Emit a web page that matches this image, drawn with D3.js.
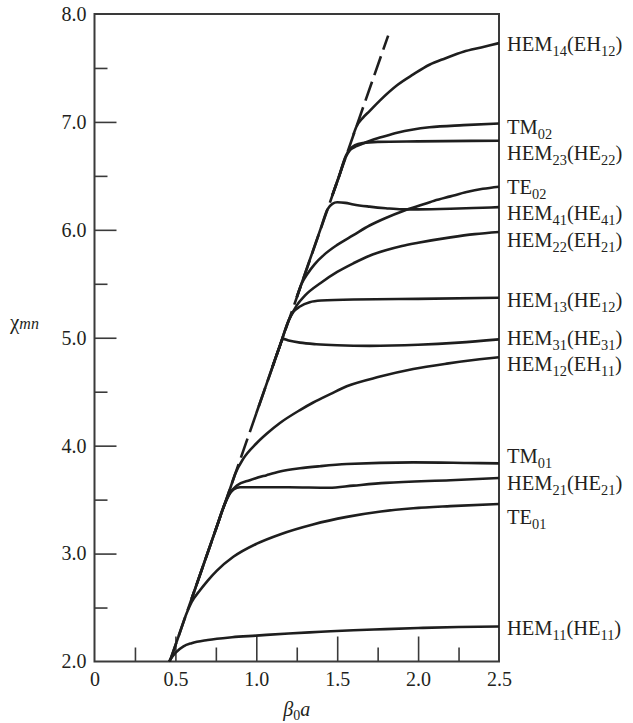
<!DOCTYPE html>
<html>
<head>
<meta charset="utf-8">
<script src="https://cdn.jsdelivr.net/npm/d3@7"></script>
<style>
  html, body { margin: 0; padding: 0; background: #fff; }
  svg text { font-family: "Liberation Serif", "Times New Roman", serif; fill: #231f20; }
</style>
</head>
<body>
<svg id="chart" width="633" height="723"></svg>
<script>
// ---------------- data ----------------
const xTicksMajor = [0, 0.5, 1.0, 1.5, 2.0, 2.5];
const xTickLabels = ["0", "0.5", "1.0", "1.5", "2.0", "2.5"];
const xTicksMinor = [0.25, 0.75, 1.25, 1.75, 2.25];
const yTicksMajor = [2, 3, 4, 5, 6, 7, 8];
const yTickLabels = ["2.0", "3.0", "4.0", "5.0", "6.0", "7.0", "8.0"];
const yTicksMinor = [2.5, 3.5, 4.5, 5.5, 6.5, 7.5];

// light line (dashed), straight
const lightLine = [[0.465, 2.0], [1.815, 7.8]];

const modeNames = [
  "HEM_14(EH_12)", "TM_02", "HEM_23(HE_22)", "TE_02", "HEM_41(HE_41)",
  "HEM_22(EH_21)", "HEM_13(HE_12)", "HEM_31(HE_31)", "HEM_12(EH_11)",
  "TM_01", "HEM_21(HE_21)", "TE_01", "HEM_11(HE_11)"
];
// label anchor values (chi units) at right edge
const labelValues = [7.72, 6.95, 6.71, 6.40, 6.16, 5.91, 5.35, 5.00, 4.76, 3.90, 3.65, 3.34, 2.31];

const hem14 = [[1.60,6.88],[1.617,6.95],[1.66,7.04],[1.70,7.10],[1.765,7.20],[1.87,7.34],[1.97,7.44],[2.07,7.53],[2.17,7.59],[2.28,7.65],[2.39,7.69],[2.5,7.73]];
const tm02 = [[1.47,6.32],[1.51,6.49],[1.55,6.665],[1.58,6.74],[1.62,6.775],[1.66,6.80],[1.72,6.835],[1.77,6.857],[1.87,6.90],[1.97,6.93],[2.07,6.95],[2.28,6.97],[2.5,6.985]];
const hem23 = [[1.47,6.32],[1.51,6.49],[1.555,6.69],[1.58,6.75],[1.61,6.785],[1.66,6.805],[1.75,6.815],[2.0,6.82],[2.5,6.826]];
const te02 = [[1.25,5.375],[1.28,5.50],[1.32,5.60],[1.36,5.68],[1.42,5.77],[1.50,5.86],[1.60,5.95],[1.70,6.04],[1.80,6.11],[1.90,6.17],[2.0,6.22],[2.10,6.27],[2.20,6.31],[2.30,6.35],[2.40,6.38],[2.5,6.40]];
const hem41 = [[1.25,5.375],[1.30,5.59],[1.35,5.805],[1.40,6.02],[1.44,6.19],[1.47,6.24],[1.50,6.255],[1.55,6.25],[1.60,6.235],[1.70,6.215],[1.80,6.20],[1.90,6.19],[2.0,6.19],[2.2,6.195],[2.4,6.205],[2.5,6.21]];
const hem22 = [[1.10,4.73],[1.15,4.945],[1.20,5.16],[1.25,5.30],[1.30,5.39],[1.40,5.51],[1.50,5.61],[1.60,5.69],[1.70,5.76],[1.80,5.81],[1.90,5.85],[2.0,5.88],[2.2,5.93],[2.35,5.96],[2.5,5.98]];
const hem13 = [[1.10,4.73],[1.15,4.945],[1.20,5.16],[1.23,5.24],[1.27,5.29],[1.33,5.33],[1.40,5.345],[1.60,5.355],[2.0,5.36],[2.5,5.37]];
const hem31 = [[1.0,4.30],[1.05,4.515],[1.10,4.73],[1.14,4.90],[1.165,4.99],[1.20,4.975],[1.27,4.955],[1.37,4.94],[1.50,4.93],[1.70,4.925],[2.0,4.935],[2.25,4.955],[2.5,4.985]];
const hem12 = [[0.75,3.225],[0.80,3.44],[0.84,3.61],[0.87,3.74],[0.92,3.88],[1.0,4.02],[1.064,4.11],[1.146,4.21],[1.27,4.33],[1.352,4.40],[1.46,4.48],[1.559,4.55],[1.765,4.64],[1.97,4.71],[2.177,4.76],[2.38,4.80],[2.5,4.82]];
const tm01 = [[0.60,2.58],[0.65,2.795],[0.70,3.01],[0.75,3.225],[0.80,3.44],[0.837,3.56],[0.88,3.63],[0.96,3.68],[1.064,3.727],[1.146,3.76],[1.27,3.79],[1.394,3.81],[1.559,3.83],[1.97,3.845],[2.3,3.84],[2.5,3.836]];
const hem21 = [[0.60,2.58],[0.65,2.795],[0.70,3.01],[0.75,3.225],[0.80,3.44],[0.83,3.54],[0.86,3.595],[0.90,3.615],[1.0,3.615],[1.2,3.615],[1.45,3.61],[1.60,3.63],[1.80,3.655],[2.2,3.68],[2.5,3.70]];
const te01 = [[0.47,2.02],[0.52,2.235],[0.57,2.45],[0.60,2.55],[0.652,2.66],[0.70,2.75],[0.755,2.84],[0.858,2.97],[1.0,3.09],[1.15,3.18],[1.35,3.27],[1.56,3.34],[1.77,3.39],[1.97,3.42],[2.2,3.44],[2.5,3.46]];
const hem11 = [[0.46,2.0],[0.50,2.08],[0.55,2.14],[0.60,2.17],[0.70,2.20],[0.85,2.225],[1.0,2.24],[1.2,2.26],[1.4,2.275],[1.6,2.29],[1.8,2.30],[2.0,2.31],[2.25,2.32],[2.5,2.325]];

const modeCurves = [hem14, tm02, hem23, te02, hem41, hem22, hem13, hem31, hem12, tm01, hem21, te01, hem11];

// ---------------- drawing ----------------
const svg = d3.select("#chart");
const L = 94.5, R = 499, T = 14, B = 661.5;

const x = d3.scaleLinear().domain([0, 2.5]).range([L, R]);
const y = d3.scaleLinear().domain([2, 8]).range([B, T]);

const ink = "#1e1e1e";
const frameInk = "#3a3a3a";
const FS = 20;
const LFS = 20.5;

// minor y ticks
svg.append("g").attr("transform", `translate(${L},0)`)
  .call(d3.axisLeft(y).tickValues(yTicksMinor).tickSize(-13).tickFormat(""))
  .call(g => g.select(".domain").remove())
  .call(g => g.selectAll("line").attr("stroke", frameInk).attr("stroke-width", 1.6));
// major y ticks
svg.append("g").attr("transform", `translate(${L},0)`)
  .call(d3.axisLeft(y).tickValues(yTicksMajor).tickSize(-22).tickPadding(8)
        .tickFormat((d, i) => yTickLabels[i]))
  .call(g => g.select(".domain").remove())
  .call(g => g.selectAll("line").attr("stroke", frameInk).attr("stroke-width", 1.6)
        .filter(d => d === 8 || d === 2).remove())
  .call(g => g.selectAll("text").attr("font-size", FS).attr("font-family", "Liberation Serif").attr("fill", "#231f20"));

// minor x ticks
svg.append("g").attr("transform", `translate(0,${B})`)
  .call(d3.axisBottom(x).tickValues(xTicksMinor).tickSize(-14).tickFormat(""))
  .call(g => g.select(".domain").remove())
  .call(g => g.selectAll("line").attr("stroke", frameInk).attr("stroke-width", 1.6));
// major x ticks
svg.append("g").attr("transform", `translate(0,${B})`)
  .call(d3.axisBottom(x).tickValues(xTicksMajor).tickSize(-25).tickPadding(10)
        .tickFormat((d, i) => xTickLabels[i]))
  .call(g => g.select(".domain").remove())
  .call(g => g.selectAll("line").attr("stroke", frameInk).attr("stroke-width", 1.6)
        .filter(d => d === 0 || d === 2.5).remove())
  .call(g => g.selectAll("text").attr("font-size", FS).attr("font-family", "Liberation Serif").attr("fill", "#231f20"));

// frame
svg.append("rect")
  .attr("x", x(0)).attr("y", y(8))
  .attr("width", x(2.5) - x(0)).attr("height", y(2) - y(8))
  .attr("fill", "none").attr("stroke", frameInk).attr("stroke-width", 2);

const line = d3.line().x(d => x(d[0])).y(d => y(d[1])).curve(d3.curveMonotoneX);

// dashed light line
svg.append("path")
  .datum(lightLine)
  .attr("d", d3.line().x(d => x(d[0])).y(d => y(d[1])))
  .attr("fill", "none").attr("stroke", ink).attr("stroke-width", 2.6)
  .attr("stroke-dasharray", "20,7");

// mode curves
svg.append("g").selectAll("path")
  .data(modeCurves)
  .join("path")
  .attr("d", line)
  .attr("fill", "none").attr("stroke", ink).attr("stroke-width", 2.6)
  .attr("stroke-linejoin", "round").attr("stroke-linecap", "butt");

// mode labels
function addRich(textSel, label, fs) {
  const parts = label.split(/_(\d+)/);
  parts.forEach((p, i) => {
    if (p === "") return;
    if (i % 2 === 1) {
      textSel.append("tspan").attr("font-size", fs * 0.7).attr("dy", 5).text(p);
    } else {
      textSel.append("tspan").attr("font-size", fs).attr("dy", i === 0 ? 0 : -5).text(p);
    }
  });
}
const lab = svg.append("g");
modeNames.forEach((name, i) => {
  const t = lab.append("text")
    .attr("x", R + 8)
    .attr("y", y(labelValues[i]) + 7)
    .attr("font-size", LFS);
  addRich(t, name, LFS);
});

// axis titles
const yt = svg.append("text").attr("x", 10).attr("y", 329).attr("font-size", 21);
yt.append("tspan").text("χ");
yt.append("tspan").attr("font-style", "italic").attr("font-size", 16).text("mn");

const xt = svg.append("text").attr("x", (L + R) / 2).attr("y", 716)
  .attr("text-anchor", "middle").attr("font-size", FS);
xt.append("tspan").attr("font-style", "italic").text("β");
xt.append("tspan").attr("font-size", 14).attr("dy", 4).text("0");
xt.append("tspan").attr("font-style", "italic").attr("dy", -4).text("a");
</script>
</body>
</html>
